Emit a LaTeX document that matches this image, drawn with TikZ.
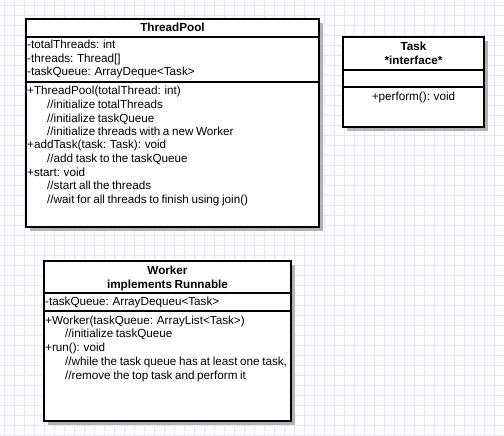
\documentclass[tikz,border=0pt]{standalone}
\usepackage{fontspec}
\setmainfont[WordSpace=0.8]{Liberation Sans}
\begin{document}
\begin{tikzpicture}[x=1pt,y=-1pt,
  classbox/.style={draw=black,line width=2pt,fill=white},
  shade/.style={fill=black!30},
  txt/.style={inner sep=0pt,anchor=base west,font=\fontsize{11.7}{13}\selectfont},
  head/.style={inner sep=0pt,anchor=base,font=\fontsize{11.7}{13}\selectfont\bfseries}]
\useasboundingbox (0,0) rectangle (504,436);
\fill[white] (0,0) rectangle (504,436);
% grid
\foreach \x in {4,14,...,504} \draw[blue!10,line width=0.8pt] (\x,0) -- (\x,436);
\foreach \y in {5,15,...,436} \draw[blue!10,line width=0.8pt] (0,\y) -- (504,\y);
% ThreadPool
\fill[shade] (30,23) rectangle (323,231);
\draw[classbox] (26,19) rectangle (319,227);
\draw[line width=2pt] (26,37) -- (319,37);
\draw[line width=2pt] (26,82) -- (319,82);
\node[head] (tpname) at (172.5,32) {ThreadPool};
\foreach \t [count=\i] in {-totalThreads: int,-threads: Thread[],-taskQueue: ArrayDeque<Task>}
  \node[txt] (tpattr\i) at (27,{49+13.5*(\i-1)}) {\t};
\foreach \t/\d [count=\i] in {{+ThreadPool(totalThread: int)}/0,{//initialize totalThreads}/20,
    {//initialize taskQueue}/20,{//initialize threads with a new Worker}/20,
    {+addTask(task: Task): void}/0,{//add task to the taskQueue}/20,
    {+start: void}/0,{//start all the threads}/20,
    {//wait for all threads to finish using join()}/20}
  \node[txt] (tpop\i) at ({27+\d},{95+13.5*(\i-1)}) {\t};
% Task
\fill[shade] (347,41) rectangle (488,131);
\draw[classbox] (343,37) rectangle (484,127);
\draw[line width=2pt] (343,70) -- (484,70);
\draw[line width=2pt] (343,87) -- (484,87);
\node[head] (taskname) at (413.5,51) {Task};
\node[head] (taskkind) at (413.5,64.5) {*interface*};
\node[inner sep=0pt,anchor=base,font=\fontsize{11.7}{13}\selectfont] (taskop) at (413.5,101) {+perform(): void};
% Worker
\fill[shade] (48,265) rectangle (295,425);
\draw[classbox] (44,261) rectangle (291,421);
\draw[line width=2pt] (44,293) -- (291,293);
\draw[line width=2pt] (44,311) -- (291,311);
\node[head] (wname) at (167.5,274) {Worker};
\node[head] (wkind) at (167.5,288) {implements Runnable};
\node[txt] (wattr) at (45,305) {-taskQueue: ArrayDequeu<Task>};
\foreach \t/\d [count=\i] in {{+Worker(taskQueue: ArrayList<Task>)}/0,{//initialize taskQueue}/20,
    {+run(): void}/0,{//while the task queue has at least one task,}/20,
    {//remove the top task and perform it}/20}
  \node[txt] (wop\i) at ({45+\d},{324+13.75*(\i-1)}) {\t};
\end{tikzpicture}
\end{document}
